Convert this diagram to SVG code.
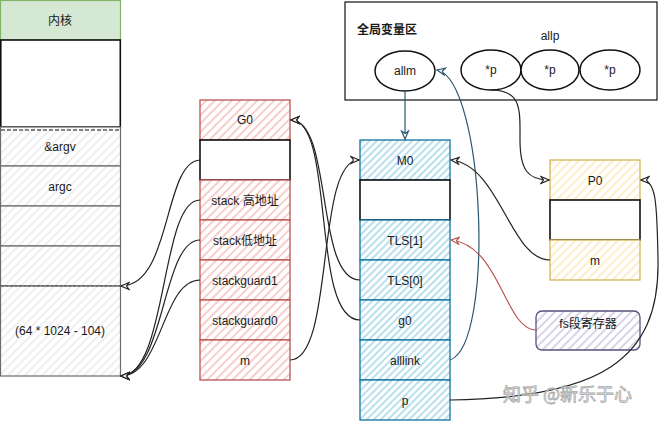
<svg xmlns="http://www.w3.org/2000/svg" width="662" height="421" viewBox="0 0 662 421">
<defs>
<pattern id="hg" width="6" height="6" patternUnits="userSpaceOnUse" patternTransform="rotate(45)"><rect width="6" height="6" fill="#fff"/><line x1="1" y1="0" x2="1" y2="6" stroke="#ececec" stroke-width="1.6"/></pattern>
<pattern id="hr" width="6" height="6" patternUnits="userSpaceOnUse" patternTransform="rotate(45)"><rect width="6" height="6" fill="#fff"/><line x1="1" y1="0" x2="1" y2="6" stroke="#f6c9c7" stroke-width="1.8"/></pattern>
<pattern id="hb" width="5" height="5" patternUnits="userSpaceOnUse" patternTransform="rotate(45)"><rect width="5" height="5" fill="#fff"/><line x1="1" y1="0" x2="1" y2="5" stroke="#a9d8ec" stroke-width="1.6"/></pattern>
<pattern id="hy" width="6" height="6" patternUnits="userSpaceOnUse" patternTransform="rotate(45)"><rect width="6" height="6" fill="#fff"/><line x1="1" y1="0" x2="1" y2="6" stroke="#fbeec4" stroke-width="1.8"/></pattern>
<pattern id="hp" width="6" height="6" patternUnits="userSpaceOnUse" patternTransform="rotate(45)"><rect width="6" height="6" fill="#fff"/><line x1="1" y1="0" x2="1" y2="6" stroke="#cdcbe0" stroke-width="1.6"/></pattern>
<marker id="ak" viewBox="0 0 10 10" refX="9" refY="5" markerWidth="10" markerHeight="10" markerUnits="userSpaceOnUse" orient="auto"><path d="M1,1.5 L9,5 L1,8.5 L3.5,5 Z" fill="#fff" stroke="#222" stroke-width="1.2"/></marker>
<marker id="ab" viewBox="0 0 10 10" refX="9" refY="5" markerWidth="10" markerHeight="10" markerUnits="userSpaceOnUse" orient="auto"><path d="M1,1.5 L9,5 L1,8.5 L3.5,5 Z" fill="#fff" stroke="#2a5670" stroke-width="1.2"/></marker>
<marker id="ar" viewBox="0 0 10 10" refX="9" refY="5" markerWidth="10" markerHeight="10" markerUnits="userSpaceOnUse" orient="auto"><path d="M1,1.5 L9,5 L1,8.5 L3.5,5 Z" fill="#fff" stroke="#b85450" stroke-width="1.2"/></marker>
</defs>
<style>
text{font-family:"Liberation Sans",Arial,"Noto Sans CJK SC",sans-serif;font-size:12px;fill:#1a1a1a;text-anchor:middle;dominant-baseline:central}
.g{fill:url(#hg);stroke:#6b6b6b;stroke-width:1.2}
.r{fill:url(#hr);stroke:#b85450;stroke-width:1.3}
.b{fill:url(#hb);stroke:#10739e;stroke-width:1.3}
.y{fill:url(#hy);stroke:#d6b656;stroke-width:1.3}
.w{fill:#fff;stroke:#111;stroke-width:1.6}
.c{fill:none;stroke:#222;stroke-width:1.2;marker-end:url(#ak)}
.cb{fill:none;stroke:#2a5670;stroke-width:1.2;marker-end:url(#ab)}
.cr{fill:none;stroke:#b85450;stroke-width:1.2;marker-end:url(#ar)}
.e{fill:#fff;stroke:#111;stroke-width:1.5}
</style>

<g id="global">
<rect x="345" y="2" width="312" height="98" fill="#fff" stroke="#222" stroke-width="1.3"/>
<text x="357" y="30" style="text-anchor:start;font-weight:bold">全局变量区</text>
<text x="550" y="36">allp</text>
</g>
<g id="allm"><ellipse class="e" cx="405" cy="71" rx="30" ry="20"/><text x="405" y="71">allm</text></g>
<g id="p1"><ellipse class="e" cx="491" cy="70" rx="30" ry="20"/><text x="491" y="70">*p</text></g>
<g id="p2"><ellipse class="e" cx="550" cy="70" rx="29" ry="20"/><text x="550" y="70">*p</text></g>
<g id="p3"><ellipse class="e" cx="610" cy="70" rx="30" ry="20"/><text x="610" y="70">*p</text></g>

<g id="kernel-stack">
<rect x="0.5" y="0.5" width="120" height="39.5" fill="#d5e8d4" stroke="#82b366" stroke-width="1.2"/>
<text x="60" y="21">内核</text>
<rect class="w" x="0.8" y="40" width="119.5" height="87"/>
<rect class="g" x="0.5" y="127" width="120" height="39"/>
<line x1="1" y1="130" x2="120" y2="130" stroke="#111" stroke-width="1.2" stroke-dasharray="4 2"/>
<text x="60" y="147">&amp;argv</text>
<rect class="g" x="0.5" y="166" width="120" height="40"/>
<text x="60" y="187">argc</text>
<rect class="g" x="0.5" y="206" width="120" height="40"/>
<rect class="g" x="0.5" y="246" width="120" height="40"/>
<rect class="g" x="0.5" y="286" width="120" height="90"/>
<line x1="1" y1="286" x2="120" y2="286" stroke="#555" stroke-width="1" stroke-dasharray="3 1.5"/>
<text x="60" y="331">(64 * 1024 - 104)</text>
</g>

<g id="G0">
<rect class="r" x="200" y="100" width="90" height="40"/><text x="245" y="120">G0</text>
<rect class="w" x="200" y="140" width="90" height="40"/>
<rect class="r" x="200" y="180" width="90" height="40"/><text x="245" y="201">stack 高地址</text>
<rect class="r" x="200" y="220" width="90" height="40"/><text x="245" y="241">stack低地址</text>
<rect class="r" x="200" y="260" width="90" height="40"/><text x="245" y="281">stackguard1</text>
<rect class="r" x="200" y="300" width="90" height="40"/><text x="245" y="321">stackguard0</text>
<rect class="r" x="200" y="340" width="90" height="40"/><text x="245" y="361">m</text>
</g>

<g id="M0">
<rect class="b" x="360" y="140" width="90" height="40"/><text x="405" y="161">M0</text>
<rect class="w" x="360" y="180" width="90" height="40"/>
<rect class="b" x="360" y="220" width="90" height="40"/><text x="405" y="241">TLS[1]</text>
<rect class="b" x="360" y="260" width="90" height="40"/><text x="405" y="281">TLS[0]</text>
<rect class="b" x="360" y="300" width="90" height="40"/><text x="405" y="321">g0</text>
<rect class="b" x="360" y="340" width="90" height="40"/><text x="405" y="361">alllink</text>
<rect class="b" x="360" y="380" width="90" height="40"/><text x="405" y="401">p</text>
</g>

<g id="P0">
<rect class="y" x="550" y="160" width="90" height="40"/><text x="595" y="181">P0</text>
<rect class="w" x="550" y="200" width="90" height="40"/>
<rect class="y" x="550" y="240" width="90" height="40"/><text x="595" y="261">m</text>
</g>

<g id="fs">
<rect x="536" y="311" width="104" height="39" rx="6" fill="url(#hp)" stroke="#56517e" stroke-width="1.3"/>
<text x="588" y="324">fs段寄存器</text>
</g>

<g id="connectors">
<path class="c" d="M200,160 C163,162 172,286 121,286"/>
<path class="c" d="M200,200 C160,200 168,376 121,376"/>
<path class="c" d="M200,240 C162,240 165,376 121,376"/>
<path class="c" d="M200,280 C162,280 162,376 121,376"/>
<path class="c" d="M290,360 C335,360 315,160 359,160"/>
<path class="c" d="M360,280 C315,280 333,120 291,120"/>
<path class="c" d="M360,320 C310,320 336,120 291,120"/>
<path class="cb" d="M405,91 L405,139"/>
<path class="cb" d="M450,360 C495,345 485,80 437,70"/>
<path class="c" d="M450,400 C600,398 660,360 658,260 C657,200 656,180 641,180"/>
<path class="c" d="M491,90 C522,90 520,110 520,140 C520,170 528,180 549,180"/>
<path class="c" d="M550,260 C510,260 500,165 451,160"/>
<path class="cr" d="M536,330 C505,330 500,245 451,240"/>
</g>

<text x="503" y="393" style="text-anchor:start;font-size:18px;fill:#fff;fill-opacity:0.6;stroke:#a8a8a8;stroke-width:0.8;font-family:'Noto Sans CJK SC',sans-serif">知乎 @新乐于心</text>
</svg>
